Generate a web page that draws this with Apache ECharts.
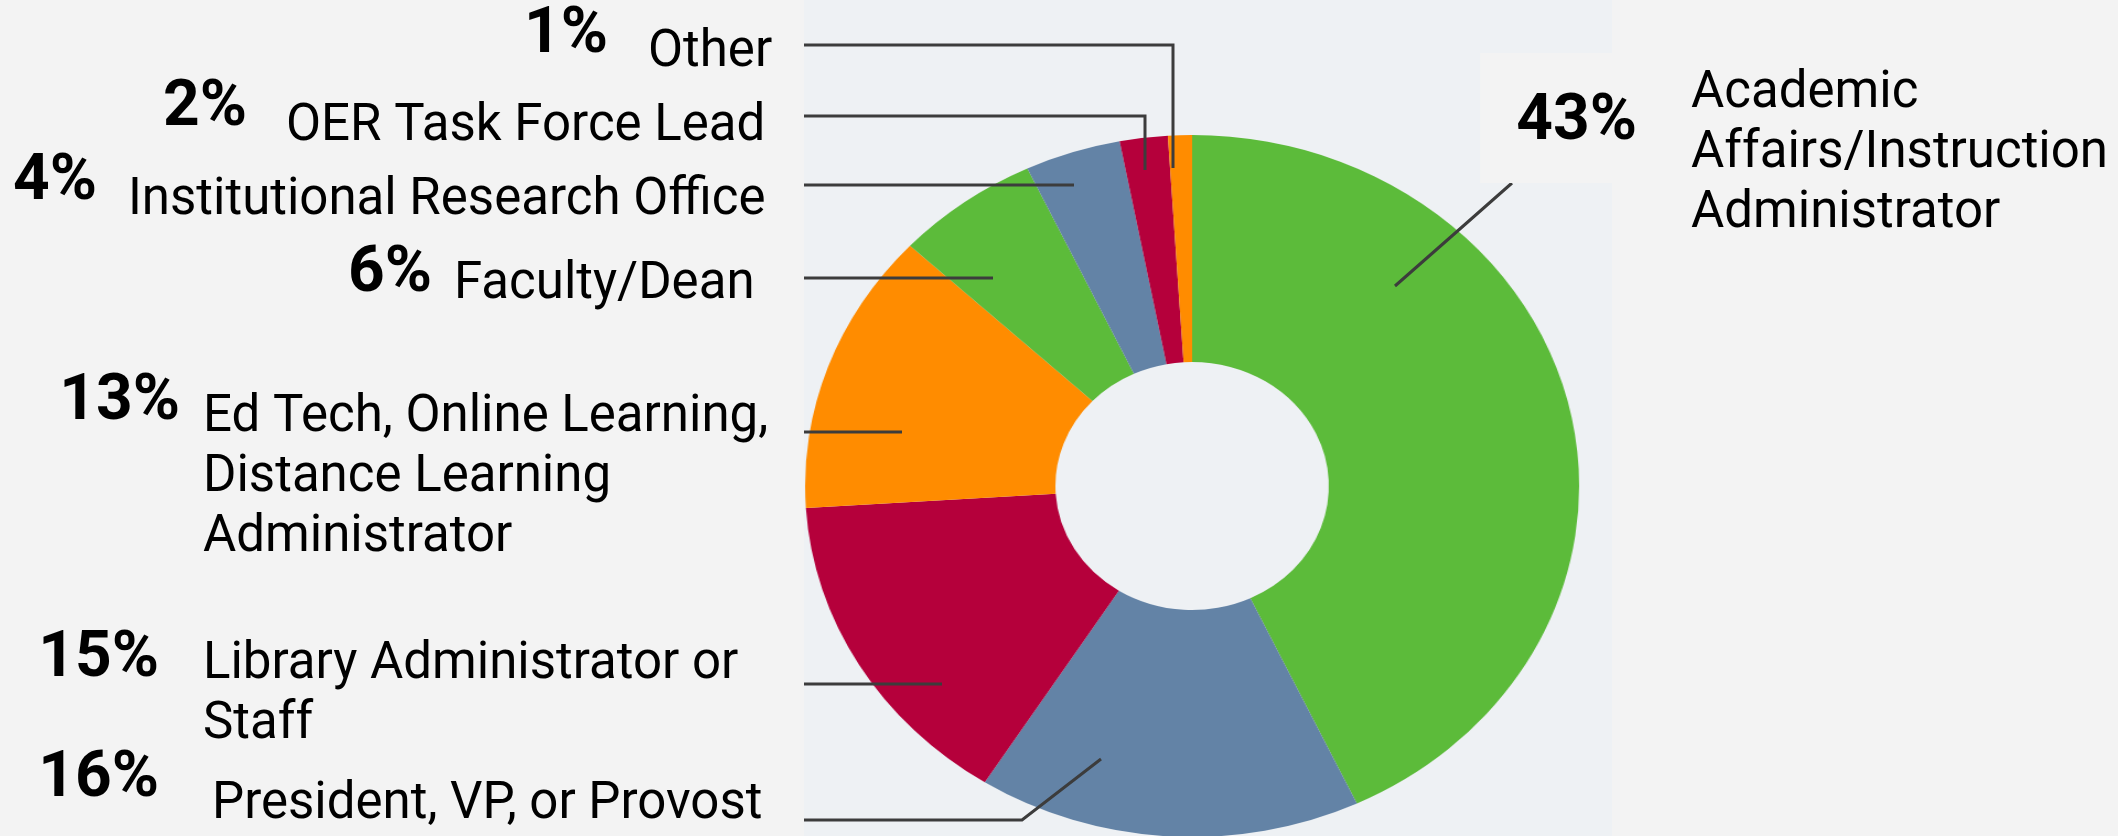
<!DOCTYPE html>
<html>
<head>
<meta charset="utf-8">
<script src="https://cdn.jsdelivr.net/npm/echarts@6/dist/echarts.min.js"></script>
<style>
  html, body { margin: 0; padding: 0; background: #F3F3F3; }
  body { width: 2118px; height: 836px; position: relative; overflow: hidden; }
  /* the donut in the source is an ellipse, so the pie canvas is stretched sideways */
  #pie { position: absolute; left: 804px; top: 0; width: 733px; height: 836px; transform: scaleX(1.1026); transform-origin: 0 0; }
  #labels { position: absolute; left: 0; top: 0; width: 2118px; height: 836px; }
</style>
</head>
<body>
<div id="pie"></div>
<div id="labels"></div>
<script>

let categories = [
    'Academic\nAffairs/Instruction\nAdministrator',
    'President, VP, or Provost',
    'Library Administrator or\nStaff',
    'Ed Tech, Online Learning,\nDistance Learning\nAdministrator',
    'Faculty/Dean',
    'Institutional Research Office',
    'OER Task Force Lead',
    'Other'
];
let shares = [43, 16, 15, 13, 6, 4, 2, 1];
let colors = ['#5CBB3A', '#6383A6', '#B5003B', '#FF8C00'];

// label placement (page pixels): name top-left, percent top-right, leader line path
let namePos = [[1691, 64], [212, 775], [203, 635], [203, 388], [454, 255], [128, 171], [286, 97], [648, 23]];
let pctPos = [[1647, 53], [159, 748], [159, 628], [180, 371], [432, 243], [97, 151], [247, 77], [608, 4]];
let guides = [
    [[1395, 286], [1453, 235], [1512, 183]],
    [[1101, 759], [1022, 820], [804, 820]],
    [[942, 684], [870, 684], [804, 684]],
    [[902, 432], [850, 432], [804, 432]],
    [[993, 278], [900, 278], [804, 278]],
    [[1074, 185], [940, 185], [804, 185]],
    [[1145, 170], [1145, 116], [804, 116]],
    [[1173, 168], [1173, 45], [804, 45]]
];

let pieChart = echarts.init(document.getElementById('pie'));

pieChart.setOption({
    backgroundColor: '#EEF1F4',
    animation: false,
    series: [{
        type: 'pie',
        center: [352, 486],
        radius: [124, 351],
        startAngle: 90,
        silent: true,
        label: { show: false },
        labelLine: { show: false },
        data: categories.map(function (name, i) {
            return { name: name, value: shares[i], itemStyle: { color: colors[i % 4], borderWidth: 0 } };
        })
    }]
});

let labelChart = echarts.init(document.getElementById('labels'));

let hidden = { color: 'rgba(0,0,0,0)', borderWidth: 0 };

labelChart.setOption({
    backgroundColor: 'transparent',
    animation: false,
    series: [
        {
            type: 'pie',
            center: [1192, 486],
            radius: [124, 351],
            startAngle: 90,
            silent: true,
            avoidLabelOverlap: false,
            itemStyle: hidden,
            label: {
                show: true,
                formatter: '{b}',
                color: '#000',
                fontFamily: 'Roboto',
                fontSize: 51,
                lineHeight: 60
            },
            labelLine: { show: true, lineStyle: { color: '#3C3C3C', width: 3 } },
            labelLayout: function (p) {
                return {
                    x: namePos[p.dataIndex][0],
                    y: namePos[p.dataIndex][1],
                    align: 'left',
                    verticalAlign: 'top',
                    labelLinePoints: guides[p.dataIndex]
                };
            },
            data: categories.map(function (name, i) {
                return { name: name, value: shares[i] };
            })
        },
        {
            type: 'pie',
            center: [1192, 486],
            radius: [124, 351],
            startAngle: 90,
            silent: true,
            avoidLabelOverlap: false,
            itemStyle: hidden,
            label: {
                show: true,
                formatter: '{c}%',
                color: '#000',
                fontFamily: 'Roboto',
                fontWeight: 'bold',
                fontSize: 64,
                lineHeight: 64
            },
            labelLine: { show: false },
            labelLayout: function (p) {
                return {
                    x: pctPos[p.dataIndex][0],
                    y: pctPos[p.dataIndex][1],
                    align: 'right',
                    verticalAlign: 'top'
                };
            },
            data: categories.map(function (name, i) {
                let item = { name: name, value: shares[i] };
                if (i === 0) {
                    item.label = { backgroundColor: '#F3F3F3', padding: [38, 10, 28, 36] };
                }
                return item;
            })
        }
    ]
});

</script>
</body>
</html>
